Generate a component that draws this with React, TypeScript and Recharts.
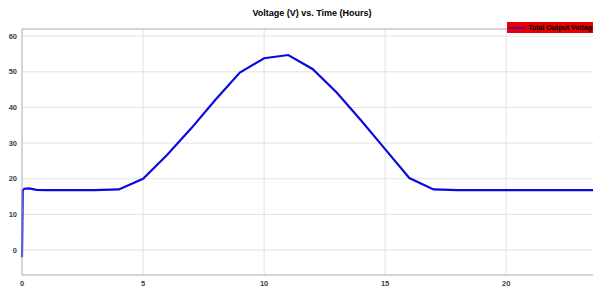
import { CartesianGrid, Legend, Line, LineChart, ReferenceLine, XAxis, YAxis } from "recharts"

const hours = [0, 0.03, 0.1, 0.3, 0.6, 1, 2, 3, 4, 5, 6, 7, 8, 9, 10, 11, 12, 13, 14, 15, 16, 17, 18, 19, 20, 21, 22, 23, 24]
const voltage = [-2, 16.8, 17.2, 17.3, 16.9, 16.8, 16.8, 16.8, 17.0, 20.0, 26.7, 34.2, 42.2, 49.8, 53.8, 54.7, 50.8, 44.2, 36.4, 28.3, 20.2, 17.0, 16.8, 16.8, 16.8, 16.8, 16.8, 16.8, 16.8]
const xTicks = [0, 5, 10, 15, 20]
const yTicks = [0, 10, 20, 30, 40, 50, 60]
const title = "Voltage (V) vs. Time (Hours)"
const seriesName = "Total Output Voltage"

const data = hours.map((t, i) => ({ t, v: voltage[i] }))

const tickStyle = { fontSize: 7.5, fontWeight: 700, fill: "#404040", fontFamily: "Liberation Sans, Arial, sans-serif" }

function LegendBox() {
  return (
    <div
      style={{
        background: "#e60000",
        height: 11,
        display: "flex",
        alignItems: "center",
        whiteSpace: "nowrap",
        fontFamily: "Liberation Sans, Arial, sans-serif",
        fontSize: 7,
        fontWeight: 700,
        color: "#000",
      }}
    >
      <span style={{ display: "inline-block", width: 16, height: 2, background: "#7000a0", marginLeft: 2, marginRight: 3 }} />
      {seriesName}
    </div>
  )
}

export default function App() {
  return (
    <div style={{ position: "absolute", left: 0, top: 0, width: 593, height: 289, overflow: "hidden", background: "#fff" }}>
      <div
        style={{
          position: "absolute",
          left: 0,
          width: 624,
          top: 8,
          textAlign: "center",
          fontFamily: "Liberation Sans, Arial, sans-serif",
          fontSize: 9,
          fontWeight: 700,
          color: "#000",
          zIndex: 2,
        }}
      >
        {title}
      </div>
      <LineChart width={620} height={289} data={data} margin={{ top: 18, right: 17, bottom: 0, left: 0 }}>
        <CartesianGrid stroke="#e2e2e2" strokeWidth={1} />
        <XAxis
          dataKey="t"
          type="number"
          domain={[0, 24]}
          ticks={xTicks}
          height={14}
          tickSize={4}
          tickLine={false}
          stroke="#b8b8b8"
          tick={tickStyle}
        />
        <YAxis
          type="number"
          domain={[-7, 62]}
          ticks={yTicks}
          width={22}
          tickSize={3}
          tickLine={false}
          stroke="#b8b8b8"
          tick={tickStyle}
          allowDataOverflow
        />
        <ReferenceLine y={62} stroke="#b8b8b8" />
        <Legend
          verticalAlign="top"
          align="right"
          content={() => <LegendBox />}
          wrapperStyle={{ position: "absolute", left: 507, top: 22, width: 120 }}
        />
        <Line
          dataKey="v"
          name={seriesName}
          stroke="#0a0ae0"
          strokeWidth={2.2}
          dot={false}
          isAnimationActive={false}
        />
      </LineChart>
    </div>
  )
}
